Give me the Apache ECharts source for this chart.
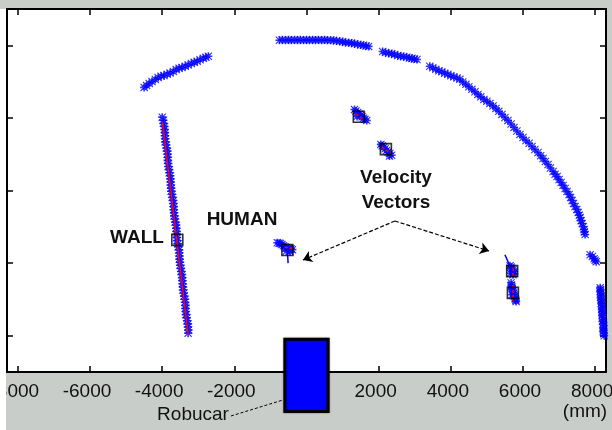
<!DOCTYPE html>
<html><head><meta charset="utf-8">
<script src="https://cdn.jsdelivr.net/npm/echarts@6/dist/echarts.min.js"></script>
<style>html,body{margin:0;padding:0;background:#c9cdc9}#c{width:612px;height:430px}</style>
</head><body><div id="c"></div>
<script>
// ---- data (mm) ----
const xTicks = [-8000, -6000, -4000, -2000, 0, 2000, 4000, 6000, 8000];
const yTicks = [0, 2000, 4000, 6000, 8000];

const arcLeft = [[-4500,6840],[-4430,6890],[-4360,6950],[-4280,7000],[-4190,7060],[-4110,7110],[-4030,7150],[-3950,7170],[-3860,7200],[-3780,7240],[-3690,7280],[-3610,7330],[-3530,7370],[-3450,7390],[-3360,7420],[-3280,7460],[-3190,7500],[-3110,7530],[-3030,7560],[-2950,7600],[-2860,7640],[-2790,7670],[-2720,7700]];
const arcTop1 = [[-750,8140],[-670,8150],[-580,8140],[-500,8150],[-420,8140],[-330,8150],[-250,8140],[-170,8150],[-80,8140],[0,8150],[80,8140],[170,8150],[250,8140],[330,8150],[420,8140],[500,8150],[580,8140],[670,8140],[750,8140],[830,8120],[920,8110],[1000,8100],[1080,8080],[1170,8070],[1250,8060],[1330,8040],[1420,8030],[1500,8010],[1580,8000],[1650,7980],[1720,7970]];
const arcTop2 = [[2110,7830],[2190,7800],[2280,7780],[2360,7770],[2440,7750],[2530,7720],[2610,7700],[2690,7690],[2780,7670],[2850,7650],[2920,7640],[2990,7620],[3060,7610]];
const arcBig = [[3417,7421],[3500,7380],[3583,7338],[3670,7300],[3750,7269],[3830,7230],[3917,7200],[4000,7160],[4083,7131],[4170,7100],[4250,7062],[4330,6990],[4417,6924],[4500,6860],[4583,6786],[4670,6720],[4750,6648],[4830,6580],[4917,6510],[5000,6460],[5083,6400],[5170,6330],[5250,6262],[5330,6180],[5417,6097],[5500,6010],[5583,5931],[5670,5830],[5750,5738],[5830,5640],[5917,5545],[6000,5460],[6083,5379],[6170,5300],[6250,5214],[6330,5130],[6417,5048],[6490,4960],[6556,4883],[6620,4800],[6694,4717],[6760,4620],[6833,4524],[6890,4450],[6944,4386],[7000,4300],[7056,4221],[7110,4140],[7167,4055],[7220,3970],[7278,3890],[7320,3810],[7361,3724],[7400,3640],[7444,3559],[7490,3480],[7528,3393],[7560,3320],[7583,3255],[7610,3170],[7639,3090],[7670,3000],[7694,2924],[7700,2860],[7722,2786]];
const blobRight = [[7860,2230],[7920,2180],[7970,2120],[8000,2080],[8030,2040]];
const colRight = [[8139,1324],[8150,1270],[8139,1214],[8160,1160],[8167,1103],[8150,1050],[8167,993],[8180,940],[8167,883],[8190,830],[8194,772],[8180,720],[8194,662],[8210,610],[8194,552],[8210,500],[8222,441],[8200,390],[8222,331],[8240,280],[8222,221],[8230,160],[8222,110],[8240,55],[8250,0]];
const wallScan = [[-3998,6020],[-3963,5935],[-3968,5850],[-3932,5765],[-3942,5680],[-3917,5595],[-3932,5510],[-3907,5425],[-3917,5340],[-3881,5255],[-3886,5170],[-3851,5085],[-3861,5000],[-3836,4915],[-3850,4830],[-3825,4745],[-3835,4660],[-3800,4575],[-3805,4490],[-3770,4405],[-3779,4320],[-3754,4235],[-3769,4150],[-3744,4065],[-3754,3980],[-3718,3895],[-3723,3810],[-3688,3725],[-3698,3640],[-3673,3555],[-3688,3470],[-3662,3385],[-3672,3300],[-3637,3215],[-3642,3130],[-3607,3045],[-3616,2960],[-3591,2875],[-3606,2790],[-3581,2705],[-3591,2620],[-3556,2535],[-3560,2450],[-3525,2365],[-3535,2280],[-3510,2195],[-3525,2110],[-3499,2025],[-3509,1940],[-3474,1855],[-3479,1770],[-3444,1685],[-3454,1600],[-3428,1515],[-3443,1430],[-3418,1345],[-3428,1260],[-3393,1175],[-3397,1090],[-3362,1005],[-3372,920],[-3347,835],[-3362,750],[-3337,665],[-3346,580],[-3311,495],[-3316,410],[-3281,325],[-3291,240],[-3265,155],[-3280,70]];
const human1 = [[-810,2560],[-760,2550],[-720,2540],[-680,2510],[-640,2480],[-600,2450],[-560,2430],[-510,2410],[-470,2400],[-430,2390],[-390,2370],[-560,2330],[-450,2320]];
const human2 = [[1330,6230],[1370,6190],[1420,6150],[1460,6110],[1500,6070],[1540,6030],[1580,5990],[1620,5960],[1670,5930],[1400,6040]];
const human3 = [[2060,5270],[2100,5230],[2140,5190],[2180,5150],[2220,5100],[2260,5060],[2310,5020],[2360,4970],[2300,4950]];
const human4 = [[5640,1930],[5670,1890],[5690,1850],[5720,1810],[5750,1770],[5740,1720],[5720,1680],[5650,1720]];
const human5 = [[5670,1460],[5680,1400],[5690,1350],[5700,1290],[5720,1240],[5740,1180],[5750,1130],[5760,1080],[5780,1020],[5800,980],[5810,940],[5700,1130]];
const tracks = [[-3580,2640],[-530,2360],[1450,6030],[2200,5140],[5700,1780],[5720,1180]];
const fitWall = [[-3990,5900],[-3280,40]];
const fitHumans = [
  [[-600,2440],[-320,2390]],
  [[1370,6110],[1570,5970]],
  [[2090,5200],[2370,5000]],
  [[5723,1865],[5723,1645]],
  [[5723,1397],[5723,956]]
];
const velocities = [
  [[-530,2360],[-510,2000]],
  [[5700,1780],[5500,2230]]
];
const arrowVertex = [2450,3160];
const arrowEnds = [[-100,2085],[5060,2333]];
const robot = {x0:-600, x1:600, y0:-100, y1:-2090};
const leader = [[-2093,-2212],[-651,-1771]];

// ---- chart ----
const scanAll = [].concat(arcLeft, arcTop1, arcTop2, arcBig, blobRight, colRight, wallScan, human1, human2, human3, human4, human5);
const star = 'path://M4,0H6V4H10V6H6V10H4V6H0V4H4Z M1,0L5,4L9,0L10,1L6,5L10,9L9,10L5,6L1,10L0,9L4,5L0,1Z';
const FONT = '"Liberation Sans", Arial, sans-serif';

const chart = echarts.init(document.getElementById('c'), null, {renderer:'canvas'});
const axisCommon = {
  type:'value', axisLine:{show:true, onZero:false, lineStyle:{color:'#000', width:2}},
  axisTick:{show:true, inside:true, length:6, lineStyle:{color:'#000', width:1.5}},
  splitLine:{show:false}
};
const lineSeries = (coords, color, type, width) => ({
  type:'line', data:coords, showSymbol:false, symbol:'none', silent:true, z:4,
  lineStyle:{color:color, width:width, type:type}, animation:false
});

const series = [
  {type:'scatter', data:scanAll, symbol:star, symbolSize:8, itemStyle:{color:'#0000ff'}, z:3, animation:false, silent:true},
  lineSeries(fitWall, '#ff0000', 'solid', 1.5)
];
fitHumans.forEach(s => series.push(lineSeries(s, '#ff0000', [3,2], 1.5)));
velocities.forEach(s => series.push(lineSeries(s, '#0000ff', 'solid', 1.5)));
series.push({type:'scatter', data:tracks, symbol:'rect', symbolSize:11, z:5, animation:false, silent:true,
  itemStyle:{color:'rgba(0,0,0,0)', borderColor:'#000', borderWidth:1.6}});
series.push({type:'lines', coordinateSystem:'cartesian2d', z:6, animation:false, silent:true,
  symbol:['none','arrow'], symbolSize:[1,9],
  lineStyle:{color:'#000', width:1.2, type:[4,2], opacity:1},
  data: arrowEnds.map(e => ({coords:[arrowVertex, e]}))});
series.push({type:'custom', z:10, clip:false, animation:false, silent:true,
  data:[[robot.x0, robot.y0, robot.x1, robot.y1]],
  renderItem:function(params, api){
    const p0 = api.coord([api.value(0), api.value(1)]);
    const p1 = api.coord([api.value(2), api.value(3)]);
    return {type:'rect', shape:{x:p0[0], y:p0[1], width:p1[0]-p0[0], height:p1[1]-p0[1]},
      style:{fill:'#0000ff', stroke:'#000', lineWidth:3, shadowBlur:2, shadowColor:'rgba(0,0,0,0.4)'}};
  }});
series.push({type:'custom', z:10, clip:false, animation:false, silent:true,
  data:[[leader[0][0], leader[0][1], leader[1][0], leader[1][1]]],
  renderItem:function(params, api){
    const p0 = api.coord([api.value(0), api.value(1)]);
    const p1 = api.coord([api.value(2), api.value(3)]);
    return {type:'line', shape:{x1:p0[0], y1:p0[1], x2:p1[0], y2:p1[1]},
      style:{stroke:'#000', lineWidth:1, lineDash:[3,2]}};
  }});

const txt = (t, x, y, bold) => ({type:'text', x:x, y:y, z:50,
  style:{text:t, fill:'#111', font:(bold?'bold ':'')+'19px '+FONT, textAlign:'center', textVerticalAlign:'middle'}});

chart.setOption({
  backgroundColor:'#c9cdc9',
  animation:false,
  grid:{left:7, right:6, top:9, bottom:58, outerBoundsMode:'none', containLabel:false,
        show:true, backgroundColor:'#ffffff', borderWidth:0},
  xAxis:[
    Object.assign({}, axisCommon, {position:'bottom', min:-8300, max:8300,
      axisTick:Object.assign({}, axisCommon.axisTick, {customValues:xTicks}),
      axisLabel:{show:true, customValues:xTicks, color:'#111', fontSize:19, fontFamily:FONT, margin:10,
        padding:[0,6,0,0],
        formatter:function(v){ return String(v); }}}),
    Object.assign({}, axisCommon, {position:'top', min:-8300, max:8300,
      axisTick:Object.assign({}, axisCommon.axisTick, {customValues:xTicks}),
      axisLabel:{show:false}})
  ],
  yAxis:[
    Object.assign({}, axisCommon, {position:'left', min:-1000, max:9000,
      axisTick:Object.assign({}, axisCommon.axisTick, {customValues:yTicks}),
      axisLabel:{show:false}}),
    Object.assign({}, axisCommon, {position:'right', min:-1000, max:9000,
      axisTick:Object.assign({}, axisCommon.axisTick, {customValues:yTicks}),
      axisLabel:{show:false}})
  ],
  series:series,
  graphic:[
    {type:'rect', shape:{x:0, y:9, width:6, height:421}, style:{fill:'#ffffff'}, z:100},
    txt('WALL', 137, 238, true),
    txt('HUMAN', 242, 220, true),
    txt('Velocity', 396, 178, true),
    txt('Vectors', 396, 203, true),
    txt('Robucar', 193, 415, false),
    txt('(mm)', 585, 412, false)
  ]
});
</script></body></html>
